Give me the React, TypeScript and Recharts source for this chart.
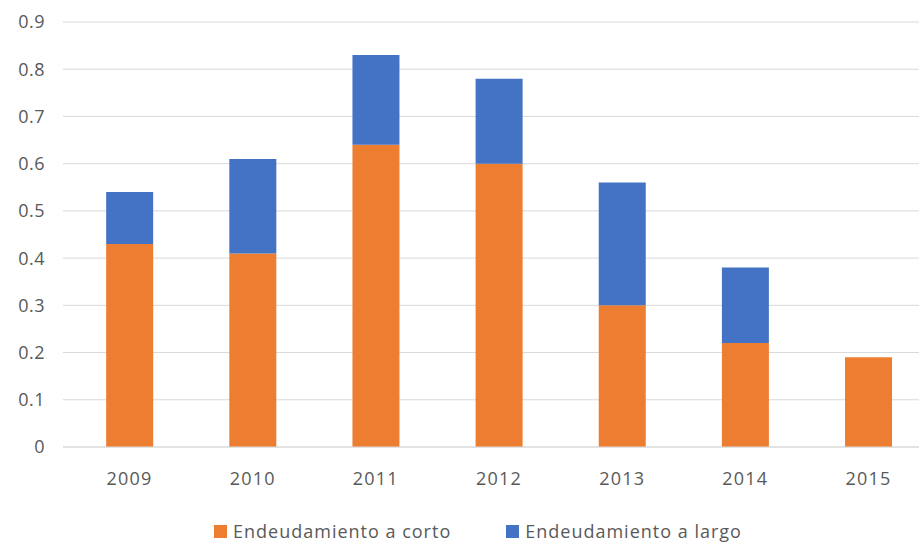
import { BarChart, Bar, XAxis, YAxis, CartesianGrid } from 'recharts';

const years = ['2009', '2010', '2011', '2012', '2013', '2014', '2015'];
const corto = [0.43, 0.41, 0.64, 0.6, 0.3, 0.22, 0.19];
const largo = [0.11, 0.2, 0.19, 0.18, 0.26, 0.16, 0];
const yTicks = [0, 0.1, 0.2, 0.3, 0.4, 0.5, 0.6, 0.7, 0.8, 0.9];

const seriesNames = ['Endeudamiento a corto', 'Endeudamiento a largo'];
const seriesColors = ['#ED7D31', '#4472C4'];

const data = years.map((year, i) => ({ year, corto: corto[i], largo: largo[i] }));

const FONT = '"Open Sans", "DejaVu Sans", sans-serif';
const TEXT = '#595959';

export default function App() {
  return (
    <div
      style={{
        position: 'fixed',
        left: 0,
        top: 0,
        width: 919,
        height: 544,
        overflow: 'hidden',
        background: '#fff',
        fontFamily: FONT,
      }}
    >
      <BarChart
        width={945}
        height={544}
        data={data}
        margin={{ top: 22, right: 15, left: 0, bottom: 57 }}
        barCategoryGap="31%"
      >
        <CartesianGrid vertical={false} stroke="#d9d9d9" />
        <XAxis
          dataKey="year"
          height={40}
          padding={{ left: 5, right: 0 }}
          axisLine={{ stroke: '#d9d9d9' }}
          tickLine={false}
          tickMargin={19}
          tick={{ fill: TEXT, fontSize: 18, fontFamily: FONT, letterSpacing: 1.2 }}
        />
        <YAxis
          width={63}
          domain={[0, 0.9]}
          ticks={yTicks}
          axisLine={false}
          tickLine={false}
          tickMargin={12}
          tick={{ fill: TEXT, fontSize: 18, fontFamily: FONT, letterSpacing: 0.5 }}
        />
        <Bar dataKey="corto" name={seriesNames[0]} stackId="a" fill={seriesColors[0]} isAnimationActive={false} />
        <Bar dataKey="largo" name={seriesNames[1]} stackId="a" fill={seriesColors[1]} isAnimationActive={false} />
      </BarChart>
      <div
        style={{
          position: 'absolute',
          left: 214,
          top: 519,
          display: 'flex',
          alignItems: 'center',
          color: TEXT,
          fontSize: 18,
          letterSpacing: 1,
          whiteSpace: 'nowrap',
        }}
      >
        {seriesNames.map((name, i) => (
          <div key={name} style={{ display: 'flex', alignItems: 'center', marginRight: i === 0 ? 55 : 0 }}>
            <span style={{ width: 13, height: 13, background: seriesColors[i], display: 'inline-block', marginRight: 6 }} />
            <span>{name}</span>
          </div>
        ))}
      </div>
    </div>
  );
}
